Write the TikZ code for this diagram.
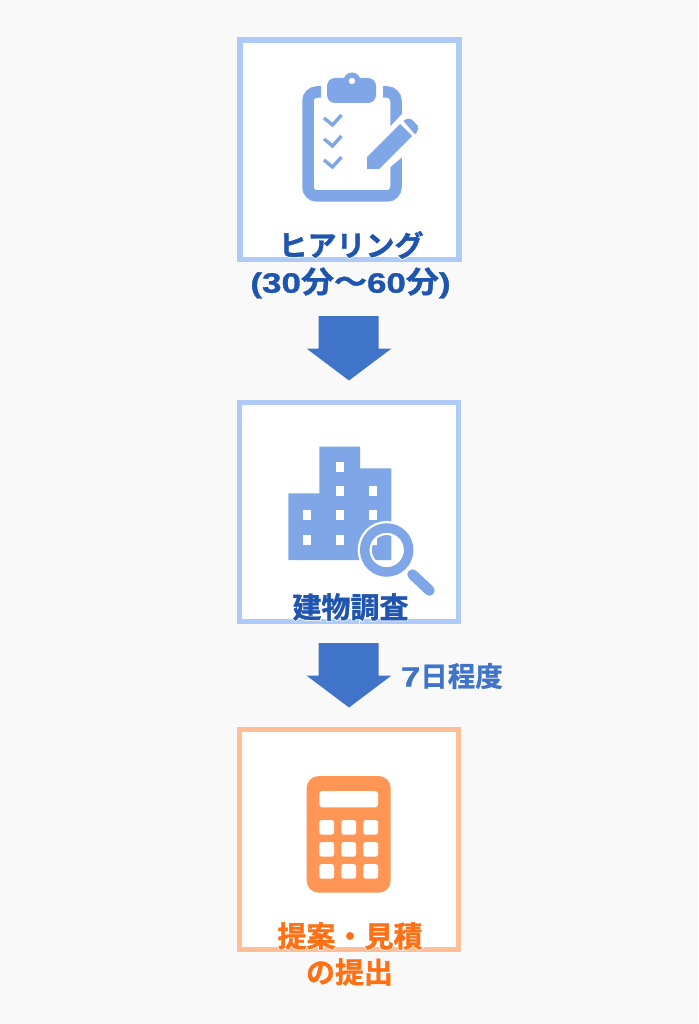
\documentclass[tikz,border=0pt]{standalone}
\usepackage{fontspec}
\newfontfamily\cjkfont{Noto Sans CJK JP Bold}[FakeBold=1.3]
\newfontfamily\cjkhalo{Noto Sans CJK JP Bold}[FakeBold=7]
\newfontfamily\cjkwide{Noto Sans CJK JP Bold}[FakeBold=1.3,FakeStretch=1.1]
\newfontfamily\cjkwidehalo{Noto Sans CJK JP Bold}[FakeBold=7,FakeStretch=1.1]
\newfontfamily\latfont{Liberation Sans Bold}[FakeStretch=1.25,FakeBold=1.3]
\newfontfamily\lathalo{Liberation Sans Bold}[FakeStretch=1.25,FakeBold=7]
\definecolor{pagebg}{HTML}{F9F9F9}
\definecolor{blueframe}{HTML}{AECBF7}
\definecolor{blueicon}{HTML}{7FA6E6}
\definecolor{bluetext}{HTML}{1F55AE}
\definecolor{bluearrow}{HTML}{4074C8}
\definecolor{orangeframe}{HTML}{FFBE96}
\definecolor{orangeicon}{HTML}{FF9655}
\definecolor{orangetext}{HTML}{FF7014}
% white rim under the text
\newcommand{\cjkpart}{\cjkfont}
\newcommand{\widepart}{\cjkwide}
\newcommand{\latpart}{\latfont}
\newcommand{\halo}[1]{\leavevmode\rlap{\color{white}\let\cjkpart\cjkhalo\let\widepart\cjkwidehalo\let\latpart\lathalo\cjkpart #1}{\cjkpart #1}}
\tikzset{
  stepbox/.style={draw=#1,line width=5.4pt,fill=white,minimum width=219pt,minimum height=219.5pt,inner sep=0pt,outer sep=0pt},
  steplabel/.style={text=#1,inner sep=0pt,font=\fontsize{29}{32}\selectfont},
  downblock/.pic={\fill[bluearrow] (-30.5,0) -- (29.5,0) -- (29.5,32.5) -- (42.5,32.5) -- (0,64.5) -- (-42.5,32.5) -- (-30.5,32.5) -- cycle;}
}
\begin{document}
\begin{tikzpicture}[x=1pt,y=-1pt]
\fill[pagebg] (0,0) rectangle (698,1024);
\useasboundingbox (0,0) rectangle (698,1024);

\node[stepbox=blueframe] (hearing) at (349.5,149.8) {};
\node[stepbox=blueframe] (survey) at (349,512) {};
\node[stepbox=orangeframe] (proposal) at (349,839.5) {};

% clipboard
\begin{scope}[blueicon]
\draw[line width=11.5pt,rounded corners=9pt] (321,92) -- (308,92) -- (308,196) -- (396,196) -- (396,92) -- (383,92);
\fill[rounded corners=8pt] (327,78) rectangle (376,103);
\fill (352,81) circle (8.5);
\fill[white] (352,81) circle (3.2);
\foreach \dy in {0,21,42}
  \draw[line width=3.4pt] (324,118+\dy) -- (332.5,125+\dy) -- (341.5,115+\dy);
\fill[white] (362,174) -- (362,156) -- (403,113) -- (424,130) -- (420,142) -- (382,174) -- cycle;
\fill (367,169) -- (367,157) -- (400,124) -- (412,136) -- (379,169) -- cycle;
\fill[rounded corners=2pt] (403,120.5) -- (410,118) -- (419,127) -- (415.5,135) -- cycle;
\end{scope}

% building
\fill[blueicon] (288.3,493.3) -- (319.3,493.3) -- (319.3,446.7) -- (360,446.7) -- (360,468.3) -- (391.3,468.3) -- (391.3,560) -- (288.3,560) -- cycle;
\foreach \wx/\wy in {340/466.7,340/490.7,372.7/490.7,306.7/515,340/515,372.7/515,306.7/540,340/540,372.7/540}
  \fill[white] (\wx-4.2,\wy-5) rectangle (\wx+4.2,\wy+5);
\draw[white,line width=14pt] (386.7,550) circle (22);
\draw[blueicon,line width=9.5pt] (386.7,550) circle (22);
\draw[blueicon,line width=10.5pt,line cap=round] (412.5,574.5) -- (429.5,590.5);

% calculator
\fill[orangeicon,rounded corners=12pt] (306.7,776) rectangle (390.7,892.7);
\fill[white,rounded corners=3pt] (319.3,791) rectangle (378,807.3);
\foreach \bx in {319.3,341.3,363.3}
  \foreach \by in {820,842,864}
    \fill[white,rounded corners=2.5pt] (\bx,\by) rectangle (\bx+14.7,\by+14.7);

\pic at (349,316) {downblock};
\pic at (349,643) {downblock};

\node[steplabel=bluetext] (hearingtop) at (351,245) {\halo{ヒアリング}};
\node[steplabel=bluetext] (hearingtime) at (350.5,283) {\halo{{\latpart\fontsize{28}{32}\selectfont(30}\widepart\fontsize{30}{32}\selectfont 分〜{\latpart\fontsize{28}{32}\selectfont 60}分{\latpart\fontsize{28}{32}\selectfont)}}};
\node[steplabel=bluetext] (surveytop) at (350.5,607) {\halo{建物調査}};
\node[steplabel=bluearrow,font=\fontsize{27.5}{32}\selectfont] (surveytime) at (452,676) {\halo{{\latpart 7}日程度}};
\node[steplabel=orangetext] (proposaltop) at (350,936) {\halo{提案・見積}};
\node[steplabel=orangetext] (proposalend) at (349.5,972) {\halo{の提出}};
\end{tikzpicture}
\end{document}
